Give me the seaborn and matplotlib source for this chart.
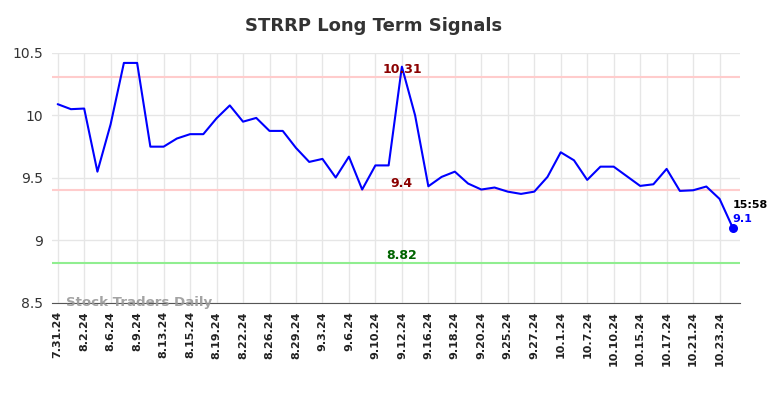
import matplotlib
matplotlib.use("Agg")
import matplotlib.pyplot as plt
import seaborn as sns
import pandas as pd

dates = ["7.31.24", "8.1.24", "8.2.24", "8.5.24", "8.6.24", "8.8.24", "8.9.24", "8.12.24",
         "8.13.24", "8.14.24", "8.15.24", "8.16.24", "8.19.24", "8.21.24", "8.22.24", "8.23.24",
         "8.26.24", "8.28.24", "8.29.24", "8.30.24", "9.3.24", "9.5.24", "9.6.24", "9.9.24",
         "9.10.24", "9.11.24", "9.12.24", "9.13.24", "9.16.24", "9.17.24", "9.18.24", "9.19.24",
         "9.20.24", "9.24.24", "9.25.24", "9.26.24", "9.27.24", "9.30.24", "10.1.24", "10.4.24",
         "10.7.24", "10.9.24", "10.10.24", "10.14.24", "10.15.24", "10.16.24", "10.17.24", "10.18.24",
         "10.21.24", "10.22.24", "10.23.24", "10.24.24"]
prices = [10.09, 10.05, 10.055, 9.55, 9.93, 10.42, 10.42, 9.75,
          9.75, 9.815, 9.85, 9.85, 9.977, 10.08, 9.95, 9.98,
          9.876, 9.876, 9.74, 9.628, 9.652, 9.503, 9.67, 9.407,
          9.60, 9.60, 10.39, 10.0, 9.433, 9.508, 9.55, 9.455,
          9.407, 9.423, 9.39, 9.372, 9.39, 9.508, 9.705, 9.641,
          9.484, 9.59, 9.59, 9.513, 9.436, 9.449, 9.572, 9.396,
          9.401, 9.431, 9.332, 9.10]
resistance_high = 10.31
resistance_low = 9.4
support = 8.82
yticks = [8.5, 9, 9.5, 10, 10.5]
ytick_labels = ["8.5", "9", "9.5", "10", "10.5"]
last_time = "15:58"
last_label = "9.1"

df = pd.DataFrame({"idx": range(len(prices)), "price": prices})

sns.set_style("white")
fig = plt.figure(figsize=(7.84, 3.98), dpi=100)
ax = fig.add_axes([0.066, 0.239, 0.878, 0.628])

ax.axhline(resistance_high, color="#ffcccc", lw=1.5, zorder=1)
ax.axhline(resistance_low, color="#ffcccc", lw=1.5, zorder=1)
ax.axhline(support, color="#90ee90", lw=1.5, zorder=1)

sns.lineplot(data=df, x="idx", y="price", ax=ax, color="blue", lw=1.5, zorder=3)
ax.scatter([df.idx.iloc[-1]], [prices[-1]], color="blue", s=30, zorder=4)

ax.set_xlim(-0.45, 51.55)
ax.set_ylim(8.5, 10.5)
ax.set_yticks(yticks)
ax.set_yticklabels(ytick_labels, fontsize=10, color="#333333")
tick_idx = list(range(0, len(dates), 2))
ax.set_xticks(tick_idx)
ax.set_xticklabels([dates[i] for i in tick_idx], rotation=90, fontsize=8,
                   fontweight="bold", color="#222222")
ax.tick_params(axis="both", length=0, pad=6)
ax.set_xlabel("")
ax.set_ylabel("")
ax.grid(True, color="#e6e6e6", lw=1)
for s in ["top", "right", "left"]:
    ax.spines[s].set_visible(False)
ax.spines["bottom"].set_color("#555555")

ax.text(26, resistance_high + 0.005, "10.31", color="#8b0000", fontsize=9,
        fontweight="bold", ha="center", va="bottom")
ax.text(26, resistance_low + 0.005, "9.4", color="#8b0000", fontsize=9,
        fontweight="bold", ha="center", va="bottom")
ax.text(26, support + 0.005, "8.82", color="#006400", fontsize=9,
        fontweight="bold", ha="center", va="bottom")
ax.text(51, prices[-1] + 0.14, last_time, color="black", fontsize=8,
        fontweight="bold", ha="left", va="bottom")
ax.text(51, prices[-1] + 0.03, last_label, color="blue", fontsize=8,
        fontweight="bold", ha="left", va="bottom")
ax.text(0.6, 8.505, "Stock Traders Daily", color="#999999", fontsize=9.6,
        fontweight="bold", ha="left", va="center", alpha=0.9)

fig.text(0.477, 0.935, "STRRP Long Term Signals", fontsize=13, fontweight="bold",
         color="#333333", ha="center", va="center")

fig.savefig("out.png", dpi=100)
